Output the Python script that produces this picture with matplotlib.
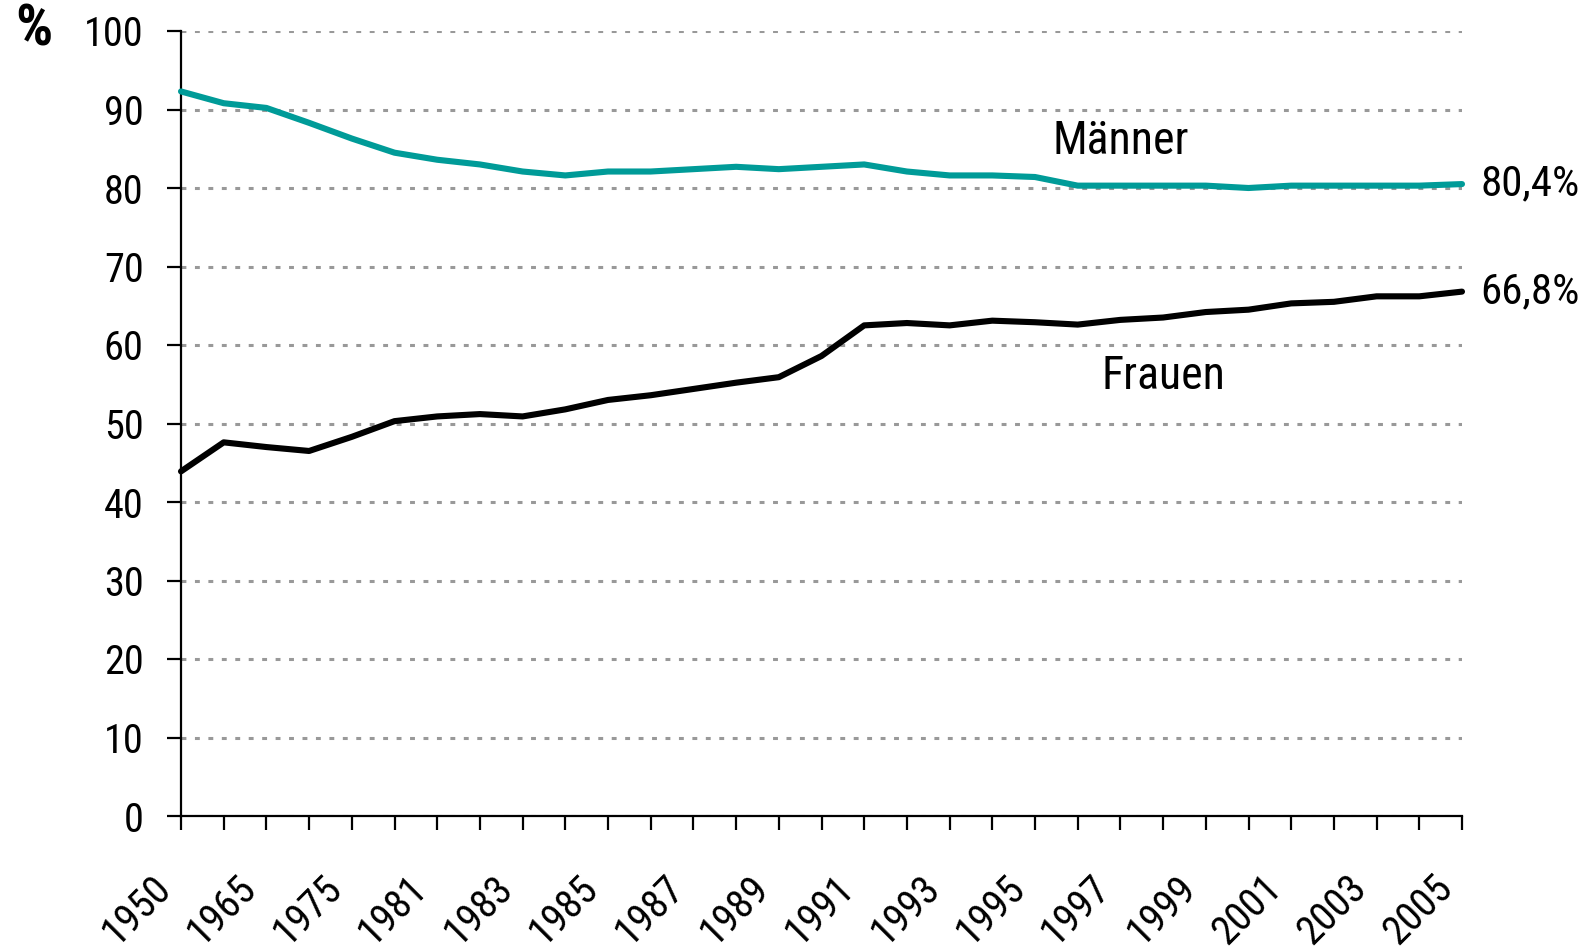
import matplotlib
matplotlib.use("Agg")
import matplotlib.pyplot as plt
from matplotlib import font_manager
from matplotlib.transforms import ScaledTranslation

# categories on the x axis (only every other one gets a label)
years = ["1950", "1960", "1965", "1970", "1975", "1980", "1981", "1982", "1983",
         "1984", "1985", "1986", "1987", "1988", "1989", "1990", "1991", "1992",
         "1993", "1994", "1995", "1996", "1997", "1998", "1999", "2000", "2001",
         "2002", "2003", "2004", "2005"]

maenner = [92.3, 90.8, 90.2, 88.3, 86.3, 84.5, 83.6, 83.0, 82.1, 81.6, 82.1,
           82.1, 82.4, 82.7, 82.4, 82.7, 83.0, 82.1, 81.6, 81.6, 81.4, 80.3,
           80.3, 80.3, 80.3, 80.0, 80.3, 80.3, 80.3, 80.3, 80.5]

frauen = [43.9, 47.6, 47.0, 46.5, 48.3, 50.3, 50.9, 51.2, 50.9, 51.8, 53.0,
          53.6, 54.4, 55.2, 55.9, 58.6, 62.5, 62.8, 62.5, 63.1, 62.9, 62.6,
          63.2, 63.5, 64.2, 64.5, 65.3, 65.5, 66.2, 66.2, 66.8]

end_labels = ["80,4%", "66,8%"]
yticks = list(range(0, 101, 10))

TEAL = "#009b98"
GRID = "#999999"


def pick_condensed():
    # look for a narrow / condensed regular face among installed fonts
    prefs = ["Liberation Sans Narrow", "Roboto Condensed", "Noto Sans", "DejaVu Sans",
             "Open Sans", "Roboto", "Lato", "Inter"]
    found = {}
    for f in font_manager.fontManager.ttflist:
        fn = f.fname.lower()
        narrow = ("condensed" in fn or "narrow" in fn or
                  str(f.stretch) in ("condensed", "semi-condensed", "extra-condensed"))
        if not narrow or "italic" in fn or "oblique" in fn:
            continue
        w = f.weight if isinstance(f.weight, int) else 400
        if w not in (400, "normal", "regular"):
            continue
        found.setdefault(f.name, f)
    for p in prefs:
        if p in found:
            return found[p]
    return next(iter(found.values()), None)


cond = pick_condensed()
if cond is not None:
    plt.rcParams["font.family"] = [cond.name, "DejaVu Sans"]
    plt.rcParams["font.stretch"] = cond.stretch
    SCALE = 1.0
else:
    plt.rcParams["font.family"] = ["Liberation Sans", "DejaVu Sans"]
    SCALE = 0.85

fig = plt.figure(figsize=(15.84, 9.51), dpi=100)
ax = fig.add_axes([181 / 1584, 1 - 816 / 951, (1462 - 181) / 1584, (816 - 31) / 951])

x = list(range(len(years)))
ax.plot(x, maenner, color=TEAL, lw=4.4, solid_capstyle="round", zorder=3, clip_on=False)
ax.plot(x, frauen, color="black", lw=4.4, solid_capstyle="round", zorder=3, clip_on=False)

ax.set_xlim(0, len(years) - 1)
ax.set_ylim(0, 100)

# dotted horizontal grid
ax.set_yticks(yticks)
ax.yaxis.grid(True, color=GRID, lw=2.2, linestyle=(0, (1.6, 2.8)))
ax.set_axisbelow(True)

for s in ["top", "right"]:
    ax.spines[s].set_visible(False)
for s in ["left", "bottom"]:
    ax.spines[s].set_linewidth(1.6)

fs = 29 * SCALE
ax.set_xticks(x)
ax.set_xticklabels([y if i % 2 == 0 else "" for i, y in enumerate(years)],
                   rotation=45, ha="right", va="center", rotation_mode="anchor")
ax.tick_params(axis="x", length=10, width=1.6, pad=37, labelsize=fs)
ax.tick_params(axis="y", length=10, width=1.6, pad=17, labelsize=fs)
# labels sit a little left of their ticks, as in the original
shift = ScaledTranslation(-16 / 100, 0, fig.dpi_scale_trans)
for lab in ax.get_xticklabels():
    lab.set_transform(lab.get_transform() + shift)

# series labels
ax.text(22, 86.0, "Männer", fontsize=33 * SCALE, ha="center", va="center")
ax.text(23, 56.0, "Frauen", fontsize=33 * SCALE, ha="center", va="center")
ax.annotate(end_labels[0], (x[-1], maenner[-1]), xytext=(13, 0), textcoords="offset points",
            fontsize=31 * SCALE, ha="left", va="center", annotation_clip=False)
ax.annotate(end_labels[1], (x[-1], frauen[-1]), xytext=(13, 0), textcoords="offset points",
            fontsize=31 * SCALE, ha="left", va="center", annotation_clip=False)

fig.text(34 / 1584, 1 - 30 / 951, "%", fontsize=42, fontweight="bold", ha="center", va="center")

fig.savefig("out.png", dpi=100)
